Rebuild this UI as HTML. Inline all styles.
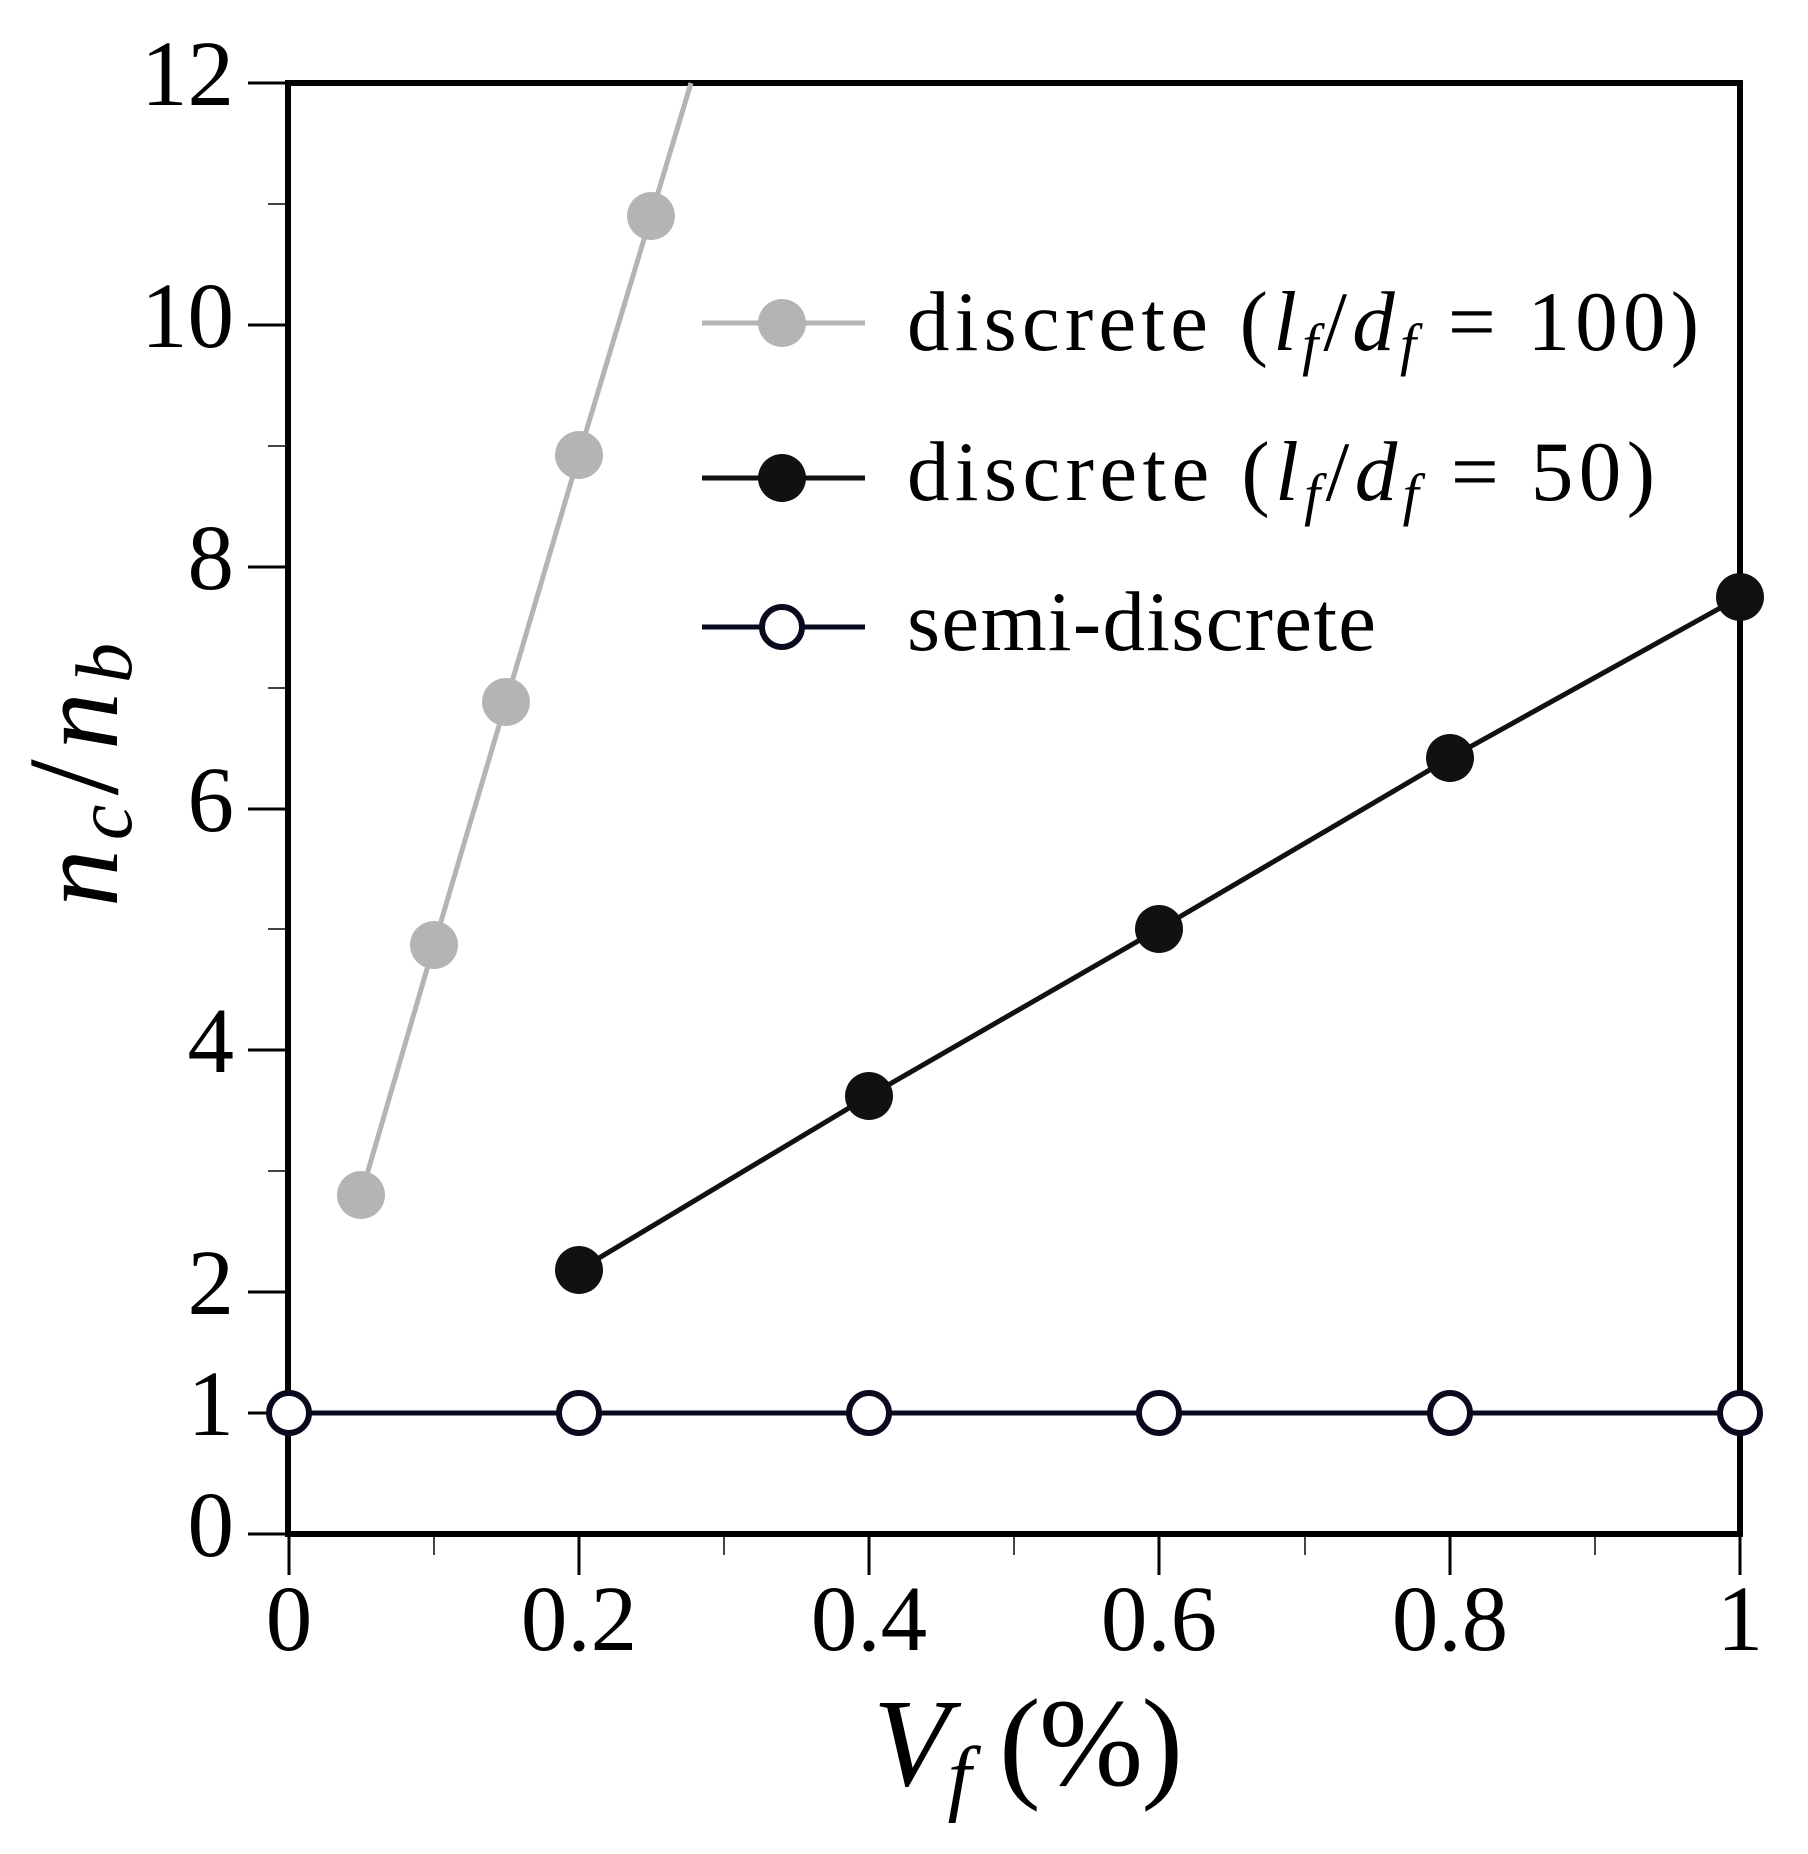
<!DOCTYPE html>
<html><head><meta charset="utf-8"><style>
html,body{margin:0;padding:0;background:#fff;}
svg{display:block;}
text{font-family:"Liberation Serif","DejaVu Serif",serif;fill:#000;}
</style></head><body>
<svg width="1808" height="1854" viewBox="0 0 1808 1854" xmlns="http://www.w3.org/2000/svg">
<rect width="1808" height="1854" fill="#fff"/>
<g stroke="#000" stroke-width="3">
<line x1="248" y1="1534" x2="288" y2="1534"/>
<line x1="248" y1="1413" x2="288" y2="1413"/>
<line x1="248" y1="1292" x2="288" y2="1292"/>
<line x1="248" y1="1050" x2="288" y2="1050"/>
<line x1="248" y1="809" x2="288" y2="809"/>
<line x1="248" y1="567" x2="288" y2="567"/>
<line x1="248" y1="325" x2="288" y2="325"/>
<line x1="248" y1="83" x2="288" y2="83"/>
</g>
<g stroke="#444" stroke-width="2">
<line x1="268" y1="1171" x2="288" y2="1171"/>
<line x1="268" y1="929" x2="288" y2="929"/>
<line x1="268" y1="688" x2="288" y2="688"/>
<line x1="268" y1="446" x2="288" y2="446"/>
<line x1="268" y1="204" x2="288" y2="204"/>
</g>
<g stroke="#000" stroke-width="3">
<line x1="289" y1="1534" x2="289" y2="1575"/>
<line x1="579" y1="1534" x2="579" y2="1575"/>
<line x1="869" y1="1534" x2="869" y2="1575"/>
<line x1="1159" y1="1534" x2="1159" y2="1575"/>
<line x1="1450" y1="1534" x2="1450" y2="1575"/>
<line x1="1740" y1="1534" x2="1740" y2="1575"/>
</g>
<g stroke="#444" stroke-width="2">
<line x1="434" y1="1534" x2="434" y2="1555"/>
<line x1="724" y1="1534" x2="724" y2="1555"/>
<line x1="1014" y1="1534" x2="1014" y2="1555"/>
<line x1="1305" y1="1534" x2="1305" y2="1555"/>
<line x1="1595" y1="1534" x2="1595" y2="1555"/>
</g>
<rect x="288" y="83" width="1452" height="1451" fill="none" stroke="#000" stroke-width="6"/>
<g font-size="93" text-anchor="end">
<text x="234" y="1556">0</text>
<text x="234" y="1435">1</text>
<text x="234" y="1314">2</text>
<text x="234" y="1072">4</text>
<text x="234" y="831">6</text>
<text x="234" y="589">8</text>
<text x="234" y="347">10</text>
<text x="234" y="105">12</text>
</g>
<g font-size="93" text-anchor="middle">
<text x="289" y="1650">0</text>
<text x="579" y="1650">0.2</text>
<text x="869" y="1650">0.4</text>
<text x="1159" y="1650">0.6</text>
<text x="1450" y="1650">0.8</text>
<text x="1740" y="1650">1</text>
</g>
<text x="873" y="1785" font-size="125" textLength="310" lengthAdjust="spacing"><tspan font-style="italic">V</tspan><tspan font-style="italic" font-size="85" dy="20">f</tspan><tspan dy="-20"> (%)</tspan></text>
<text transform="translate(117,907) rotate(-90)" font-size="115" font-style="italic" textLength="264" lengthAdjust="spacing">n<tspan font-size="80" dy="14">c</tspan><tspan font-style="normal" font-size="130" dy="-14">/</tspan>n<tspan font-size="80" dy="14">b</tspan></text>
<line x1="289" y1="1413" x2="1740" y2="1413" stroke="#0a0a1e" stroke-width="5"/>
<g fill="#fff" stroke="#0a0a1e" stroke-width="6">
<circle cx="289" cy="1413" r="20"/><circle cx="579" cy="1413" r="20"/><circle cx="869" cy="1413" r="20"/>
<circle cx="1159" cy="1413" r="20"/><circle cx="1450" cy="1413" r="20"/><circle cx="1740" cy="1413" r="20"/>
</g>
<polyline points="361,1195 434,945 506,702 579,455 651,216 691,83" fill="none" stroke="#b4b4b4" stroke-width="5"/>
<g fill="#b4b4b4">
<circle cx="361" cy="1195" r="24"/><circle cx="434" cy="945" r="24"/><circle cx="506" cy="702" r="24"/>
<circle cx="579" cy="455" r="24"/><circle cx="651" cy="216" r="24"/>
</g>
<polyline points="579,1270 869,1096 1159,929 1450,758 1740,597" fill="none" stroke="#111" stroke-width="5"/>
<g fill="#111">
<circle cx="579" cy="1270" r="24"/><circle cx="869" cy="1096" r="24"/><circle cx="1159" cy="929" r="24"/>
<circle cx="1450" cy="758" r="24"/><circle cx="1740" cy="597" r="24"/>
</g>
<line x1="702" y1="323" x2="865" y2="323" stroke="#b4b4b4" stroke-width="5"/>
<circle cx="782" cy="323" r="24" fill="#b4b4b4"/>
<line x1="702" y1="478" x2="865" y2="478" stroke="#111" stroke-width="5"/>
<circle cx="782" cy="478" r="24" fill="#111"/>
<line x1="702" y1="627" x2="865" y2="627" stroke="#0a0a1e" stroke-width="5"/>
<circle cx="782" cy="627" r="20" fill="#fff" stroke="#0a0a1e" stroke-width="6"/>
<g font-size="85">
<text x="907" y="350" textLength="792" lengthAdjust="spacing">discrete (<tspan font-style="italic">l</tspan><tspan font-style="italic" font-size="58" dy="14">f</tspan><tspan dy="-14">/</tspan><tspan font-style="italic">d</tspan><tspan font-style="italic" font-size="58" dy="14">f</tspan><tspan dy="-14">  =  100)</tspan></text>
<text x="907" y="500" textLength="748" lengthAdjust="spacing">discrete (<tspan font-style="italic">l</tspan><tspan font-style="italic" font-size="58" dy="14">f</tspan><tspan dy="-14">/</tspan><tspan font-style="italic">d</tspan><tspan font-style="italic" font-size="58" dy="14">f</tspan><tspan dy="-14">  =  50)</tspan></text>
<text x="907" y="650" textLength="469" lengthAdjust="spacing">semi-discrete</text>
</g>
</svg>
</body></html>
